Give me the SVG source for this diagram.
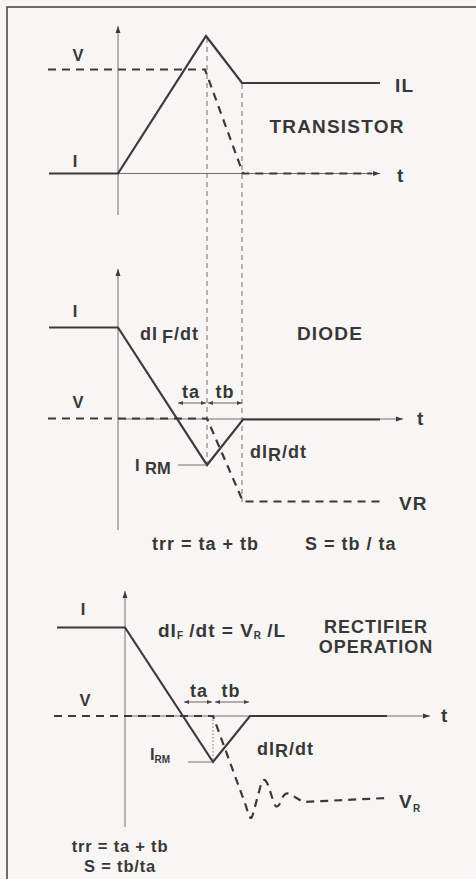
<svg xmlns="http://www.w3.org/2000/svg" width="476" height="879" viewBox="0 0 476 879">
<style>
.bg{fill:#f8f6f5}
.frame{fill:none;stroke:#4a4a4a;stroke-width:1.6}
.thick{fill:none;stroke:#3a3a3a;stroke-width:2.2;stroke-linejoin:miter}
.dash{fill:none;stroke:#3a3a3a;stroke-width:2.2;stroke-dasharray:8 6}
.thin{fill:none;stroke:#707070;stroke-width:1}
.vd{fill:none;stroke:#606060;stroke-width:0.9;stroke-dasharray:5 4}
.dot{fill:none;stroke:#707070;stroke-width:0.9;stroke-dasharray:1.5 2}
.ar{fill:none;stroke:#555;stroke-width:0.9}
text{font-family:"Liberation Sans",Arial,sans-serif;font-weight:bold;fill:#383838}
.lab{font-size:16.5px}
.big{font-size:19px;letter-spacing:1.2px}
.mid{font-size:18px;letter-spacing:1px}
.sub{font-size:10px;letter-spacing:0}
</style>
<defs>
<marker id="ah" markerWidth="8" markerHeight="6" refX="7" refY="3" orient="auto" markerUnits="userSpaceOnUse">
<path d="M0,0.5 L7,3 L0,5.5 Z" fill="#3a3a3a"/>
</marker>
<marker id="ahs" markerWidth="6" markerHeight="5" refX="5" refY="2.5" orient="auto-start-reverse" markerUnits="userSpaceOnUse">
<path d="M0,0.5 L5,2.5 L0,4.5 Z" fill="#444"/>
</marker>
</defs>
<rect class="bg" x="0" y="0" width="476" height="879"/>
<rect class="frame" x="7" y="7" width="480" height="890"/>

<g id="connectors">
<line class="vd" x1="207" y1="38" x2="207" y2="465"/>
<line class="vd" x1="242" y1="84" x2="242" y2="502"/>
<line class="dot" x1="213" y1="716" x2="213" y2="762"/>
</g>

<g id="transistor">
<line class="thin" x1="118" y1="215" x2="118" y2="26" marker-end="url(#ah)"/>
<line class="thin" x1="118" y1="173.5" x2="380" y2="173.5" marker-end="url(#ah)"/>
<polyline class="thick" points="49,173.5 118,173.5 206,36 242,83 380,83"/>
<path class="dash" d="M48,69.5 L205,69.5 L243,173.5 L372,173.5"/>
<text class="lab" x="78" y="61" text-anchor="middle">V</text>
<text class="lab" x="75" y="167" text-anchor="middle">I</text>
<text class="big" x="395" y="92">IL</text>
<text class="big" x="337" y="133" text-anchor="middle">TRANSISTOR</text>
<text class="big" x="397" y="182">t</text>
</g>

<g id="diode">
<line class="thin" x1="118" y1="530" x2="118" y2="269" marker-end="url(#ah)"/>
<line class="thin" x1="118" y1="419" x2="403" y2="419" marker-end="url(#ah)"/>
<polyline class="thick" points="49,327.5 118,327.5 207,465 243,419.5 380,419.5"/>
<path class="dash" d="M48,418.5 L207,418.5 L243,501.5 L380,501.5"/>
<line class="thin" x1="178" y1="465" x2="207" y2="465"/>
<line class="ar" x1="178" y1="403" x2="206" y2="403" marker-start="url(#ahs)" marker-end="url(#ahs)"/>
<line class="ar" x1="208" y1="403" x2="242" y2="403" marker-start="url(#ahs)" marker-end="url(#ahs)"/>
<text class="lab" x="75" y="317" text-anchor="middle">I</text>
<text class="lab" x="78" y="408" text-anchor="middle">V</text>
<text class="mid" x="140" y="340">dI<tspan x="162" dy="3">F</tspan><tspan dy="-3">/dt</tspan></text>
<text class="big" x="330" y="340" text-anchor="middle">DIODE</text>
<text class="mid" x="191" y="398" text-anchor="middle">ta</text>
<text class="mid" x="225" y="398" text-anchor="middle">tb</text>
<text class="big" x="417" y="425">t</text>
<text class="mid" x="250" y="458">dI<tspan dy="3">R</tspan><tspan dy="-3">/dt</tspan></text>
<text class="lab" x="135" y="471">I<tspan x="145" dy="3">RM</tspan></text>
<text class="big" x="399" y="510">VR</text>
<text class="mid" x="152" y="550">trr = ta + tb</text>
<text class="mid" x="305" y="550">S = tb / ta</text>
</g>

<g id="rectifier">
<line class="thin" x1="125" y1="827" x2="125" y2="591" marker-end="url(#ah)"/>
<line class="thin" x1="125" y1="716" x2="430" y2="716" marker-end="url(#ah)"/>
<polyline class="thick" points="57,627.5 125,627.5 213,762 250,716 387,716"/>
<path class="dash" d="M54,716 L213,716 L246,806 C249,817 251,822 253,814 L260,788 C262,779 265,777 268,785 L273,800 C275,808 278,809 281,801 C283,795 286,792 290,794 L303,802 L387,798"/>
<line class="thin" x1="188" y1="762" x2="213" y2="762"/>
<line class="ar" x1="184" y1="702" x2="212" y2="702" marker-start="url(#ahs)" marker-end="url(#ahs)"/>
<line class="ar" x1="215" y1="702" x2="249" y2="702" marker-start="url(#ahs)" marker-end="url(#ahs)"/>
<text class="lab" x="83" y="615" text-anchor="middle">I</text>
<text class="lab" x="85" y="706" text-anchor="middle">V</text>
<text class="mid" x="158" y="637" style="font-size:19px">dI<tspan class="sub" dy="2">F</tspan><tspan dy="-2"> /dt = V</tspan><tspan class="sub" dy="2">R</tspan><tspan dy="-2"> /L</tspan></text>
<text class="mid" x="376" y="633" text-anchor="middle">RECTIFIER</text>
<text class="mid" x="376" y="653" text-anchor="middle">OPERATION</text>
<text class="mid" x="199" y="697" text-anchor="middle">ta</text>
<text class="mid" x="231" y="697" text-anchor="middle">tb</text>
<text class="big" x="441" y="722">t</text>
<text class="mid" x="257" y="755">dI<tspan dy="2">R</tspan><tspan dy="-2">/dt</tspan></text>
<text class="lab" x="150" y="760">I<tspan class="sub" dy="3">RM</tspan></text>
<text class="big" x="399" y="808">V<tspan class="sub" dy="4">R</tspan></text>
<text class="lab" x="120" y="852" text-anchor="middle" letter-spacing="0.8">trr = ta + tb</text>
<text class="lab" x="120" y="872" text-anchor="middle" letter-spacing="0.8">S = tb/ta</text>
</g>
</svg>
